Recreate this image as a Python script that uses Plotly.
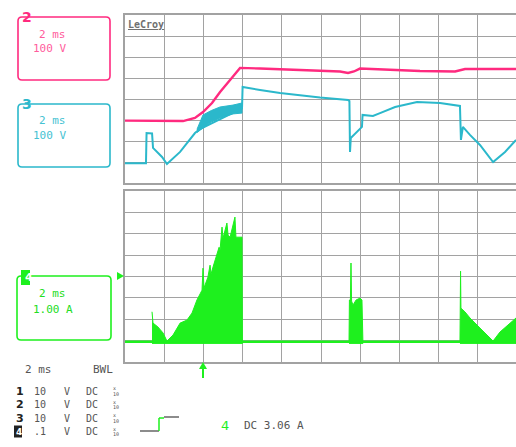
import plotly.graph_objects as go

# ---- data (time in ms, vertical in screen divisions) ----
ch2_t = [0, 2.96, 3.57, 3.98, 4.44, 4.85, 5.36, 5.87, 6.89, 8.93, 10.97, 11.38, 11.68, 11.99, 13.01, 15.05, 16.84, 17.35, 19.95]
ch2_v = [2.97, 2.95, 3.10, 3.38, 3.81, 4.33, 4.90, 5.48, 5.45, 5.38, 5.31, 5.24, 5.31, 5.45, 5.40, 5.33, 5.31, 5.43, 5.43]

ch3_t = [0, 1.07, 1.10, 1.38, 1.43, 1.63, 1.89, 2.14, 2.81, 3.57, 3.80,
         5.97, 6.00, 6.89, 7.91, 9.95, 11.38, 11.45, 11.48, 11.52, 12.09, 12.12, 12.65, 13.01, 13.78, 14.90, 16.07, 17.09, 17.14, 17.24, 17.60, 18.11, 18.78, 19.39, 19.95]
ch3_v = [0.94, 0.94, 2.38, 2.36, 1.67, 1.48, 1.24, 0.90, 1.48, 2.38, 2.55,
         3.55, 4.57, 4.43, 4.29, 4.07, 3.95, 3.90, 1.48, 2.14, 2.67, 3.24, 3.19, 3.33, 3.62, 3.86, 3.81, 3.67, 2.05, 2.67, 2.29, 1.81, 1.00, 1.48, 2.05]
# switching band on ch3
band_t = [3.67, 3.98, 4.40, 4.85, 5.51, 5.97]
band_hi = [2.55, 3.24, 3.45, 3.62, 3.71, 3.81]
band_lo = [2.40, 2.62, 2.90, 3.10, 3.29, 3.33]

ch4_base = 0.95
ch4_a_t = [1.378, 1.43, 1.68, 1.94, 2.14, 2.45, 2.81, 3.16, 3.42, 3.67, 3.93, 3.98, 4.03, 4.23, 4.34, 4.39, 4.49, 4.74, 4.80, 4.85, 4.95, 5.00, 5.20, 5.26, 5.36, 5.61, 5.66, 5.97, 5.99]
ch4_a_v = [2.35, 1.82, 1.64, 1.36, 0.98, 1.26, 1.82, 1.96, 2.29, 2.90, 3.36, 4.39, 3.46, 3.97, 4.53, 4.11, 4.44, 5.23, 5.37, 5.23, 6.31, 5.79, 6.50, 5.93, 5.84, 6.78, 5.84, 5.84, 0.95]
ch4_b_t = [11.43, 11.45, 11.50, 11.53, 11.56, 11.63, 11.79, 11.99, 12.09, 12.14]
ch4_b_v = [0.95, 2.90, 2.90, 4.63, 2.85, 2.66, 2.90, 2.99, 2.90, 0.95]
ch4_c_t = [17.09, 17.12, 17.14, 17.35, 17.60, 18.11, 18.62, 18.78, 19.13, 19.54, 19.95]
ch4_c_v = [0.95, 4.25, 2.52, 2.34, 2.06, 1.59, 1.12, 0.98, 1.40, 1.73, 2.06]

MAG = "#ff2a7f"
CYA = "#2bb8cb"
GRN = "#1ef01e"
GRID = "#a2a2a2"

W, H = 516, 447

def px(x):
    return x / W

def py(y):
    return 1 - y / H

fig = go.Figure()

fig.add_trace(go.Scatter(x=ch2_t, y=ch2_v, mode="lines", line=dict(color=MAG, width=2.4), xaxis="x", yaxis="y"))
fig.add_trace(go.Scatter(x=band_t + band_t[::-1], y=band_hi + band_lo[::-1], mode="lines", fill="toself",
                         fillcolor=CYA, line=dict(color=CYA, width=1), xaxis="x", yaxis="y"))
fig.add_trace(go.Scatter(x=ch3_t, y=ch3_v, mode="lines", line=dict(color=CYA, width=2), xaxis="x", yaxis="y"))

fig.add_trace(go.Scatter(x=[0, 19.95], y=[ch4_base, ch4_base], mode="lines", line=dict(color=GRN, width=2.5),
                         xaxis="x2", yaxis="y2"))
for tt, vv in [(ch4_a_t, ch4_a_v), (ch4_b_t, ch4_b_v), (ch4_c_t, ch4_c_v)]:
    xs = tt + [tt[-1], tt[0]]
    ys = vv + [ch4_base - 0.08, ch4_base - 0.08]
    fig.add_trace(go.Scatter(x=xs, y=ys, mode="lines", fill="toself", fillcolor=GRN,
                             line=dict(color=GRN, width=1), xaxis="x2", yaxis="y2"))

xdom = [px(125), 1]
xr = [0, (516 - 125) / 19.6]
axx = dict(range=xr, domain=xdom, dtick=2, tick0=0, showgrid=True, gridcolor=GRID, gridwidth=1.3,
           showline=True, linecolor=GRID, linewidth=1.5, mirror=True, zeroline=False,
           showticklabels=False, ticks="", fixedrange=True)
axy = dict(range=[0, 8], dtick=1, showgrid=True, gridcolor=GRID, gridwidth=1.3,
           showline=True, linecolor=GRID, linewidth=1.5, zeroline=False,
           showticklabels=False, ticks="", fixedrange=True)

shapes = []
annots = []

def rbox(x0, y0, x1, y1, color, r=4):
    path = (f"M {px(x0+r)},{py(y0)} L {px(x1-r)},{py(y0)} Q {px(x1)},{py(y0)} {px(x1)},{py(y0+r)} "
            f"L {px(x1)},{py(y1-r)} Q {px(x1)},{py(y1)} {px(x1-r)},{py(y1)} "
            f"L {px(x0+r)},{py(y1)} Q {px(x0)},{py(y1)} {px(x0)},{py(y1-r)} "
            f"L {px(x0)},{py(y0+r)} Q {px(x0)},{py(y0)} {px(x0+r)},{py(y0)} Z")
    shapes.append(dict(type="path", path=path, xref="paper", yref="paper",
                       line=dict(color=color, width=1.6)))

def txt(x, y, s, color, size=11, anchor="left", family="DejaVu Sans Mono"):
    annots.append(dict(x=px(x), y=py(y), xref="paper", yref="paper", text=s, showarrow=False,
                       xanchor=anchor, yanchor="middle", font=dict(family=family, size=size, color=color)))

# channel boxes
rbox(18, 17, 110, 80, MAG)
txt(20, 17, "<b>2</b>", MAG, size=14, family="DejaVu Sans")
txt(37, 34, "2 ms", "#ff5c9c", size=11)
txt(31, 49, "100 V", "#ff5c9c", size=11)

rbox(18, 104, 110, 167, CYA)
txt(20, 104, "<b>3</b>", CYA, size=14, family="DejaVu Sans")
txt(37, 121, "2 ms", "#45c2d2", size=11)
txt(31, 136, "100 V", "#45c2d2", size=11)

rbox(17, 276, 111, 340, GRN)
shapes.append(dict(type="rect", xref="paper", yref="paper", x0=px(21), x1=px(30), y0=py(270), y1=py(285),
                   fillcolor=GRN, line=dict(width=0)))
txt(22.5, 277.5, "<b>4</b>", "white", size=11, family="DejaVu Sans")
txt(37, 293, "2 ms", "#22dd22", size=11)
txt(31, 309, "1.00 A", "#22dd22", size=11)

txt(126, 24, "<b><u>LeCroy</u></b>", "#707070", size=10, family="DejaVu Sans Mono")

# left marker for ch4
shapes.append(dict(type="path", xref="paper", yref="paper",
                   path=f"M {px(117)},{py(272)} L {px(124)},{py(276)} L {px(117)},{py(280)} Z",
                   fillcolor=GRN, line=dict(width=0)))
# trigger arrow under lower grid
shapes.append(dict(type="line", xref="paper", yref="paper", x0=px(203), x1=px(203), y0=py(366), y1=py(378),
                   line=dict(color=GRN, width=2)))
shapes.append(dict(type="path", xref="paper", yref="paper",
                   path=f"M {px(199)},{py(369)} L {px(203)},{py(362)} L {px(207)},{py(369)} Z",
                   fillcolor=GRN, line=dict(width=0)))

# bottom status text
GR = "#555555"
txt(23, 369, "2 ms", GR, size=11)
txt(91, 369, "BWL", GR, size=11)
rows_y = [391, 404.5, 418, 431.5]
for i, yy in enumerate(rows_y):
    if i < 3:
        txt(14, yy, f"<b>{i+1}</b>", "#222222", size=11, family="DejaVu Sans")
    else:
        shapes.append(dict(type="rect", xref="paper", yref="paper", x0=px(14), x1=px(22), y0=py(yy-6), y1=py(yy+6),
                           fillcolor="#222222", line=dict(width=0)))
        txt(13.5, yy, "<b>4</b>", "white", size=9, family="DejaVu Sans")
    txt(32, yy, "10" if i < 3 else ".1", GR, size=10)
    txt(62, yy, "V", GR, size=10)
    txt(84, yy, "DC", GR, size=10)
    txt(111, yy - 3, "x", GR, size=5)
    txt(110.5, yy + 2.5, "10", GR, size=5)

# trigger symbol
shapes.append(dict(type="line", xref="paper", yref="paper", x0=px(140), x1=px(159), y0=py(431), y1=py(431),
                   line=dict(color="#666666", width=1.5)))
shapes.append(dict(type="line", xref="paper", yref="paper", x0=px(159), x1=px(159), y0=py(431), y1=py(418),
                   line=dict(color=GRN, width=1.5)))
shapes.append(dict(type="line", xref="paper", yref="paper", x0=px(159), x1=px(164), y0=py(418), y1=py(418),
                   line=dict(color=GRN, width=1.5)))
shapes.append(dict(type="line", xref="paper", yref="paper", x0=px(164), x1=px(179), y0=py(417), y1=py(417),
                   line=dict(color="#666666", width=1.5)))
txt(219, 425, "4", GRN, size=13, family="DejaVu Sans")
txt(242, 425, "DC 3.06 A", GR, size=11)

fig.update_layout(
    width=W, height=H, margin=dict(l=0, r=0, t=0, b=0),
    paper_bgcolor="white", plot_bgcolor="white", showlegend=False,
    xaxis=dict(axx, anchor="y"),
    yaxis=dict(axy, domain=[py(183), py(15)], anchor="x"),
    xaxis2=dict(axx, anchor="y2"),
    yaxis2=dict(axy, domain=[py(362), py(191)], anchor="x2"),
    shapes=shapes, annotations=annots,
)

fig.write_html("out.html", config={"displayModeBar": False},
               post_script="document.body.style.margin='0px';document.body.style.overflow='hidden';")
